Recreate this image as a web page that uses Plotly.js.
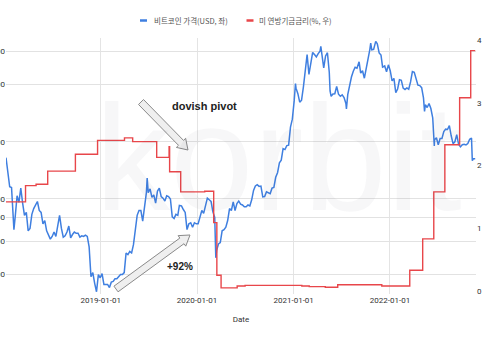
<!DOCTYPE html>
<html>
<head>
<meta charset="utf-8">
<script src="https://cdn.plot.ly/plotly-3.0.1.min.js"></script>
<style>html,body{margin:0;padding:0;background:#fff;}#chart{width:485px;height:360px;}</style>
</head>
<body>
<div id="chart"></div>
<script>
// ---- data ----
const seriesNames = ["비트코인 가격(USD, 좌)", "미 연방기금금리(%, 우)"];
const btcDates = [
"2018-01-07","2018-01-14","2018-01-21","2018-01-28","2018-02-04","2018-02-06","2018-02-11","2018-02-18","2018-02-25","2018-03-04","2018-03-11","2018-03-18","2018-03-25","2018-04-01","2018-04-08","2018-04-15","2018-04-22","2018-04-29","2018-05-06","2018-05-13","2018-05-20","2018-05-27","2018-06-03","2018-06-10","2018-06-17","2018-06-24","2018-07-01","2018-07-08","2018-07-15","2018-07-22","2018-07-29","2018-08-05","2018-08-12","2018-08-19","2018-08-26","2018-09-02","2018-09-09","2018-09-16","2018-09-23","2018-09-30","2018-10-07","2018-10-14","2018-10-21","2018-10-28","2018-11-04","2018-11-11","2018-11-18","2018-11-25","2018-12-02","2018-12-09","2018-12-16","2018-12-23","2018-12-30",
"2019-01-06","2019-01-13","2019-01-20","2019-01-27","2019-02-03","2019-02-10","2019-02-17","2019-02-24","2019-03-03","2019-03-10","2019-03-17","2019-03-24","2019-03-31","2019-04-07","2019-04-14","2019-04-21","2019-04-28","2019-05-05","2019-05-12","2019-05-19","2019-05-26","2019-06-02","2019-06-09","2019-06-16","2019-06-23","2019-06-26","2019-06-30","2019-07-07","2019-07-14","2019-07-21","2019-07-28","2019-08-04","2019-08-11","2019-08-18","2019-08-25","2019-09-01","2019-09-08","2019-09-15","2019-09-22","2019-09-29","2019-10-06","2019-10-13","2019-10-20","2019-10-26","2019-11-03","2019-11-10","2019-11-17","2019-11-24","2019-12-01","2019-12-08","2019-12-15","2019-12-22","2019-12-29",
"2020-01-05","2020-01-12","2020-01-19","2020-01-26","2020-02-02","2020-02-09","2020-02-16","2020-02-23","2020-03-01","2020-03-08","2020-03-12","2020-03-15","2020-03-22","2020-03-29","2020-04-05","2020-04-12","2020-04-19","2020-04-26","2020-05-03","2020-05-10","2020-05-17","2020-05-24","2020-05-31","2020-06-07","2020-06-14","2020-06-21","2020-06-28","2020-07-05","2020-07-12","2020-07-19","2020-07-26","2020-08-02","2020-08-09","2020-08-16","2020-08-23","2020-08-30","2020-09-06","2020-09-13","2020-09-20","2020-09-27","2020-10-04","2020-10-11","2020-10-18","2020-10-25","2020-11-01","2020-11-08","2020-11-15","2020-11-22","2020-11-29","2020-12-06","2020-12-13","2020-12-20","2020-12-27",
"2021-01-03","2021-01-08","2021-01-10","2021-01-17","2021-01-24","2021-01-31","2021-02-07","2021-02-14","2021-02-21","2021-02-28","2021-03-07","2021-03-14","2021-03-21","2021-03-28","2021-04-04","2021-04-11","2021-04-14","2021-04-18","2021-04-25","2021-05-02","2021-05-09","2021-05-16","2021-05-19","2021-05-23","2021-05-30","2021-06-06","2021-06-13","2021-06-20","2021-06-27","2021-07-04","2021-07-11","2021-07-18","2021-07-20","2021-07-25","2021-08-01","2021-08-08","2021-08-15","2021-08-22","2021-08-29","2021-09-06","2021-09-12","2021-09-19","2021-09-26","2021-10-03","2021-10-10","2021-10-17","2021-10-20","2021-10-24","2021-10-31","2021-11-08","2021-11-14","2021-11-21","2021-11-28","2021-12-04","2021-12-12","2021-12-19","2021-12-26",
"2022-01-02","2022-01-09","2022-01-16","2022-01-23","2022-01-30","2022-02-06","2022-02-13","2022-02-20","2022-02-27","2022-03-06","2022-03-13","2022-03-20","2022-03-27","2022-04-03","2022-04-10","2022-04-17","2022-04-24","2022-05-01","2022-05-08","2022-05-12","2022-05-15","2022-05-22","2022-05-29","2022-06-05","2022-06-12","2022-06-18","2022-06-19","2022-06-26","2022-07-03","2022-07-10","2022-07-17","2022-07-24","2022-07-31","2022-08-07","2022-08-14","2022-08-21","2022-08-28","2022-09-04","2022-09-11","2022-09-18","2022-09-25","2022-10-02","2022-10-09","2022-10-16","2022-10-23","2022-10-30","2022-11-06","2022-11-09","2022-11-13","2022-11-20"
];
const btcPrice = [
16500,13700,11600,11500,8200,6900,8100,10400,9600,11400,9500,8200,8500,6800,7000,8300,8900,9400,9700,8700,8500,7400,7700,6800,6500,6150,6350,6700,6350,7400,8200,7000,6300,6400,6700,7200,6250,6500,6700,6600,6600,6300,6400,6350,6450,6350,5600,3900,4100,3600,3250,4000,3850,
4050,3550,3550,3550,3420,3650,3680,3800,3800,3900,4000,4000,4100,5200,5100,5300,5200,5750,7000,8200,8700,8700,7650,8980,10800,12900,10800,11300,10200,10500,9500,11000,11400,10300,10100,9750,10400,10300,10000,8050,7900,8300,8200,9250,9200,8800,8500,6900,7400,7500,7100,7500,7400,
7400,8150,8700,8400,9300,10100,9900,9700,8550,8000,4900,5350,5800,5900,6800,6900,7100,7700,8900,8700,9650,8700,9450,9750,9400,9300,9100,9100,9300,9200,9900,11100,11700,11900,11650,11700,10250,10300,10900,10750,10650,11400,11500,13000,13750,15500,16000,18400,18200,19100,19200,23900,26300,
32800,40500,38300,35800,32300,33100,38900,48700,57500,45200,51200,59000,57500,55900,58200,60000,63500,56200,49000,56600,58800,46400,37000,34700,35700,35800,39100,35600,34700,35300,34200,31800,29800,35400,39900,43800,47000,49300,48800,52700,46000,47300,43200,48200,54700,61500,66000,60900,61300,67500,65500,58700,57200,49400,50100,46700,50800,
47300,41800,43100,36300,37900,42400,42100,38300,37700,38400,37800,41300,46800,46400,42200,39700,39500,38500,34000,28900,31300,30300,31800,29900,26700,19000,20500,21000,19300,20800,20800,22600,23300,23200,24300,21500,19550,19990,21800,19400,18800,19300,19400,19250,19570,20600,20900,15900,16300,16300
];
const rateDates = [
"2018-01-07","2018-03-22","2018-05-01","2018-06-14","2018-09-27","2018-12-20",
"2019-04-01","2019-05-02","2019-08-01","2019-09-17","2019-09-19","2019-10-31",
"2020-01-30","2020-03-04","2020-03-16","2020-04-01","2020-06-01","2020-07-01",
"2021-02-01","2021-03-01","2021-05-01","2021-06-17","2021-12-01",
"2022-03-17","2022-05-05","2022-06-16","2022-07-28","2022-09-22","2022-11-03","2022-11-20"
];
const rateValue = [
1.42,1.68,1.70,1.91,2.18,2.40,
2.44,2.38,2.13,2.30,1.90,1.58,
1.59,1.09,0.25,0.05,0.08,0.09,
0.08,0.07,0.06,0.10,0.08,
0.33,0.83,1.58,2.33,3.08,3.83,3.83
];
const leftTickVals = [4000,6000,8000,10000,20000,40000,60000];
const leftTickText = ["4,000","6,000","8,000","10,000","20,000","40,000","60,000"];
const rightTickVals = [0,1,2,3,4];
const noteTexts = ["dovish pivot","+92%"];
const watermark = "korbit";
const xTitle = "Date";
const seriesColors = ['#3f7fe0', '#e8464a'];

// ---- geometry helpers (pixel -> paper) ----
const PL = 6, PR = 476, PT = 38, PB = 294;
const PW = PR - PL, PH = PB - PT;
function px(x){ return (x - PL) / PW; }
function py(y){ return (PB - y) / PH; }
function blockArrow(x1,y1,x2,y2,sw,hw,hl){
  const dx = x2-x1, dy = y2-y1, len = Math.hypot(dx,dy);
  const ux = dx/len, uy = dy/len, nx = -uy, ny = ux;
  const bx = x2 - ux*hl, by = y2 - uy*hl;
  const pts = [
    [x1+nx*sw/2, y1+ny*sw/2],
    [bx+nx*sw/2, by+ny*sw/2],
    [bx+nx*hw/2, by+ny*hw/2],
    [x2, y2],
    [bx-nx*hw/2, by-ny*hw/2],
    [bx-nx*sw/2, by-ny*sw/2],
    [x1-nx*sw/2, y1-ny*sw/2]
  ];
  return 'M' + pts.map(p => px(p[0]).toFixed(4)+','+py(p[1]).toFixed(4)).join(' L') + ' Z';
}

const traces = [
  {x: btcDates, y: btcPrice, name: seriesNames[0], type: 'scatter', mode: 'lines',
   line: {color: seriesColors[0], width: 1.5}, yaxis: 'y', showlegend: false},
  {x: rateDates, y: rateValue, name: seriesNames[1], type: 'scatter', mode: 'lines',
   line: {color: seriesColors[1], width: 1.4, shape: 'hv'}, yaxis: 'y2', showlegend: false}
];

const fontBase = 'Roboto, "Noto Sans CJK KR", Arial, sans-serif';
const layout = {
  width: 485, height: 360,
  margin: {l: PL, r: 485-PR, t: PT, b: 360-PB, pad: 0},
  paper_bgcolor: '#ffffff', plot_bgcolor: 'rgba(0,0,0,0)',
  font: {family: fontBase, size: 8, color: '#444'},
  xaxis: {type: 'date', range: ['2018-01-07','2022-11-23'],
    tick0: '2019-01-01', dtick: 'M12', tickformat: '%Y-%m-%d',
    showgrid: true, gridcolor: '#e4e4e4', gridwidth: 1, zeroline: false, showline: false,
    ticks: '', tickfont: {size: 8, color: '#333'},
    title: {text: xTitle, font: {size: 8, color: '#333'}, standoff: 12}, automargin: false},
  yaxis: {type: 'log', range: [3.5, 4.847], tickvals: leftTickVals, ticktext: leftTickText,
    showgrid: true, gridcolor: '#e2e2e2', gridwidth: 1, zeroline: false, showline: false,
    ticks: '', tickfont: {size: 8, color: '#333'}, automargin: false},
  yaxis2: {overlaying: 'y', side: 'right', range: [-0.048, 4.032], tickvals: rightTickVals,
    showgrid: false, zeroline: false, showline: false, ticks: '',
    tickfont: {size: 8, color: '#333'}, automargin: false},
  shapes: [
    {type: 'path', xref: 'paper', yref: 'paper', path: blockArrow(141,102,188,150,7,13,10),
     fillcolor: '#efefef', line: {color: '#8a8a8a', width: 1}},
    {type: 'path', xref: 'paper', yref: 'paper', path: blockArrow(116,289,190,235,7,13,10),
     fillcolor: '#efefef', line: {color: '#8a8a8a', width: 1}},
    // legend swatches
    {type: 'line', xref: 'paper', yref: 'paper', x0: px(140), x1: px(147), y0: py(20.5), y1: py(20.5),
     line: {color: seriesColors[0], width: 2.5}},
    {type: 'line', xref: 'paper', yref: 'paper', x0: px(246.5), x1: px(253.5), y0: py(20.5), y1: py(20.5),
     line: {color: seriesColors[1], width: 2.5}}
  ],
  annotations: [
    {xref: 'paper', yref: 'paper', x: px(278), y: py(158), text: watermark, showarrow: false,
     font: {family: 'Liberation Sans, Arial, sans-serif', size: 150, color: 'rgba(60,60,90,0.045)'},
     xanchor: 'center', yanchor: 'middle'},
    {xref: 'paper', yref: 'paper', x: px(204), y: py(106), text: '<b>' + noteTexts[0] + '</b>', showarrow: false,
     font: {family: 'Liberation Sans, Arial, sans-serif', size: 11, color: '#222'}, xanchor: 'center', yanchor: 'middle'},
    {xref: 'paper', yref: 'paper', x: px(180), y: py(266), text: '<b>' + noteTexts[1] + '</b>', showarrow: false,
     font: {family: 'Liberation Sans, Arial, sans-serif', size: 10, color: '#222'}, xanchor: 'center', yanchor: 'middle'},
    {xref: 'paper', yref: 'paper', x: px(152), y: py(20.5), text: seriesNames[0], showarrow: false,
     font: {family: '"Noto Sans CJK KR", sans-serif', size: 7.5, color: '#555'}, xanchor: 'left', yanchor: 'middle'},
    {xref: 'paper', yref: 'paper', x: px(257), y: py(20.5), text: seriesNames[1], showarrow: false,
     font: {family: '"Noto Sans CJK KR", sans-serif', size: 7.5, color: '#555'}, xanchor: 'left', yanchor: 'middle'}
  ]
};

Plotly.newPlot('chart', traces, layout, {displayModeBar: false, staticPlot: true});
</script>
</body>
</html>
